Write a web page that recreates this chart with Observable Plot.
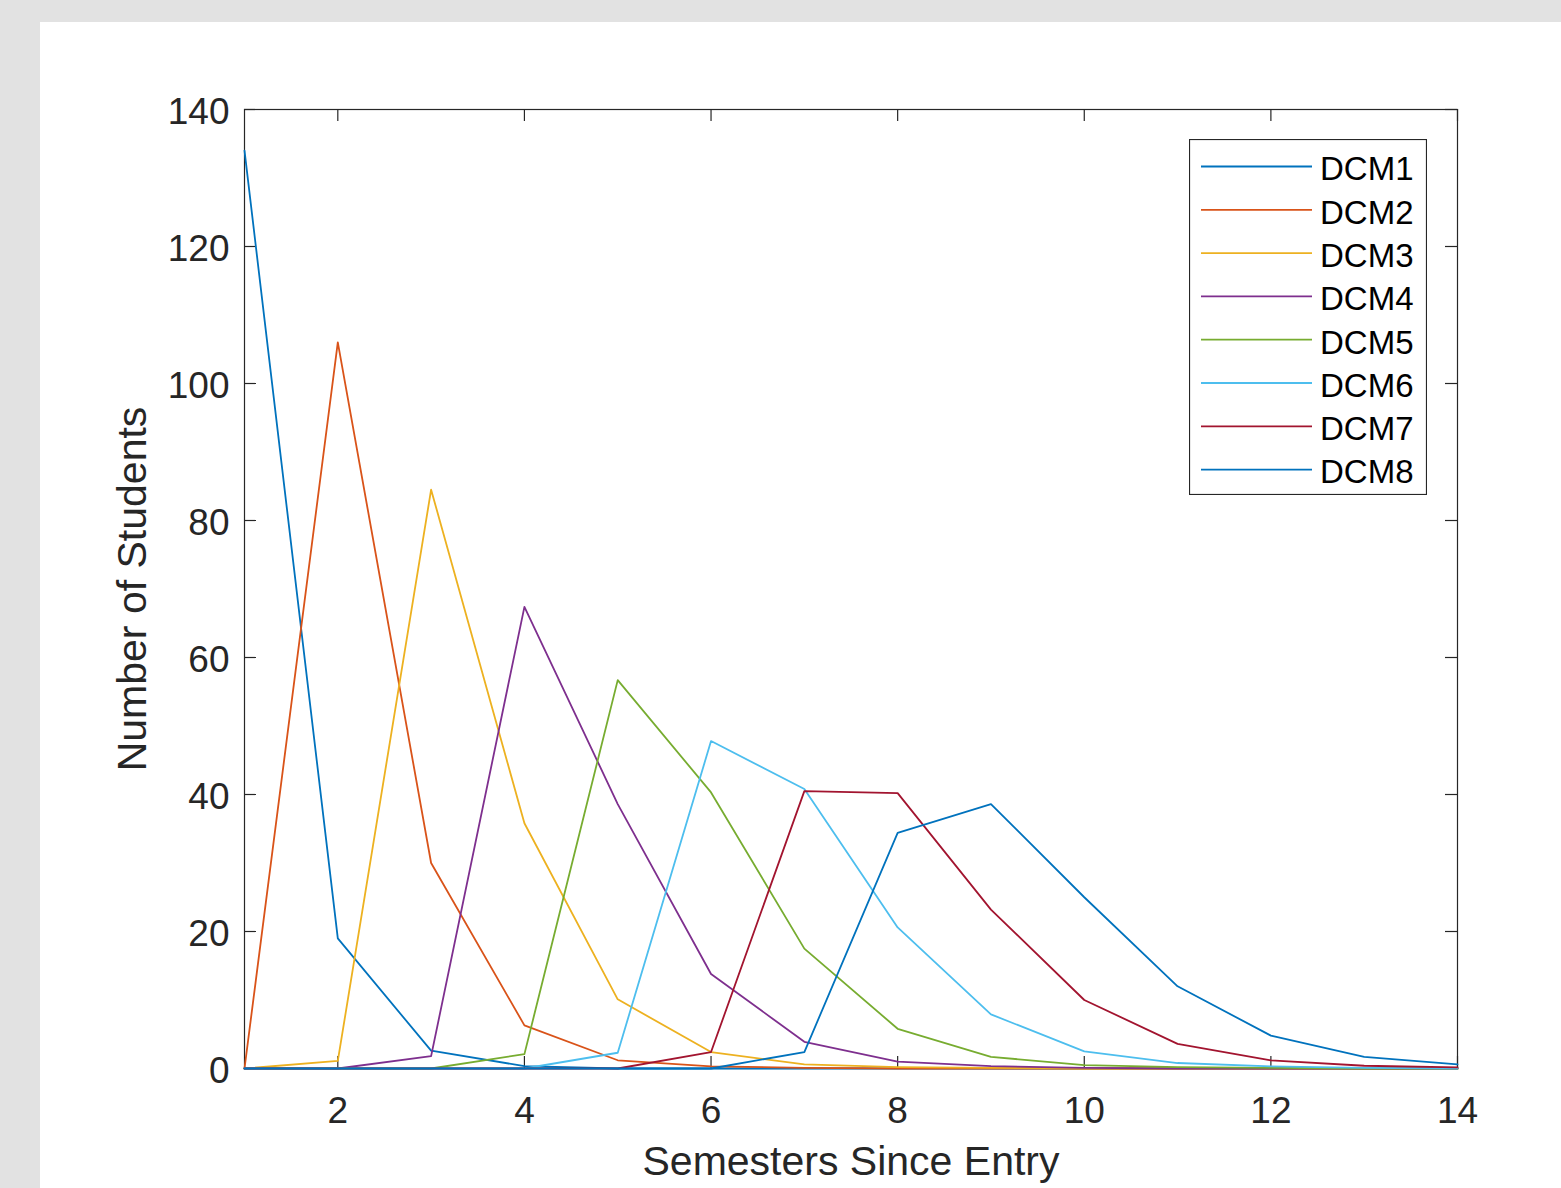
<!DOCTYPE html>
<html>
<head>
<meta charset="utf-8">
<script src="https://cdn.jsdelivr.net/npm/d3@7"></script>
<script src="https://cdn.jsdelivr.net/npm/@observablehq/plot@0.6"></script>
<style>
  html, body { margin: 0; padding: 0; background: #e2e2e2; width: 1561px; height: 1188px; overflow: hidden; }
  #fig { position: absolute; left: 40px; top: 22px; width: 1521px; height: 1166px; background: #fff; }
  #fig svg { display: block; }
  #legend { position: absolute; left: 1149px; top: 117px; }
</style>
</head>
<body>
<div id="fig"><div id="chart"></div><div id="legend"></div></div>
<script>
// ---- data ----
const semesters = [1, 2, 3, 4, 5, 6, 7, 8, 9, 10, 11, 12, 13, 14];
const seriesNames = ["DCM1", "DCM2", "DCM3", "DCM4", "DCM5", "DCM6", "DCM7", "DCM8"];
const DCM1 = [134, 19, 2.6, 0.35, 0, 0, 0, 0, 0, 0, 0, 0, 0, 0];
const DCM2 = [0, 106, 30, 6.3, 1.2, 0.3, 0.1, 0, 0, 0, 0, 0, 0, 0];
const DCM3 = [0, 1.1, 84.5, 35.8, 10.1, 2.4, 0.6, 0.2, 0.1, 0, 0, 0, 0, 0];
const DCM4 = [0, 0, 1.8, 67.4, 38.6, 13.8, 3.9, 1.0, 0.35, 0.1, 0, 0, 0, 0];
const DCM5 = [0, 0, 0, 2.1, 56.7, 40.3, 17.5, 5.8, 1.7, 0.5, 0.2, 0.1, 0, 0];
const DCM6 = [0, 0, 0, 0, 2.3, 47.8, 40.8, 20.6, 7.9, 2.5, 0.8, 0.3, 0.1, 0];
const DCM7 = [0, 0, 0, 0, 0, 2.4, 40.5, 40.2, 23.2, 10.0, 3.6, 1.2, 0.4, 0.15];
const DCM8 = [0, 0, 0, 0, 0, 0, 2.4, 34.4, 38.6, 25.0, 12.0, 4.8, 1.7, 0.6];
const seriesValues = [DCM1, DCM2, DCM3, DCM4, DCM5, DCM6, DCM7, DCM8];
const colors = ["#0072BD", "#D95319", "#EDB120", "#7E2F8E", "#77AC30", "#4DBEEE", "#A2142F", "#0072BD"];
const xTicks = [2, 4, 6, 8, 10, 12, 14];
const yTicks = [0, 20, 40, 60, 80, 100, 120, 140];
const xLabel = "Semesters Since Entry";
const yLabel = "Number of Students";

// ---- layout ----
const W = 1521, H = 1166;
const mL = 204, mR = 104, mT = 87, mB = 120;
const plotW = W - mL - mR, plotH = H - mT - mB;
const tickLen = 12;
const axisColor = "#262626";
const font = "'Liberation Sans', Arial, Helvetica, sans-serif";

const rows = seriesNames.flatMap((name, i) =>
  semesters.map((s, j) => ({series: name, idx: i, semester: s, value: seriesValues[i][j]}))
);

const chart = Plot.plot({
  width: W,
  height: H,
  marginLeft: mL,
  marginRight: mR,
  marginTop: mT,
  marginBottom: mB,
  style: {fontFamily: font, background: "white", overflow: "visible"},
  x: {domain: [1, 14]},
  y: {domain: [0, 140]},
  color: {domain: seriesNames, range: colors},
  marks: [
    Plot.frame({stroke: axisColor, strokeWidth: 1.2}),
    Plot.tickX(xTicks, {x: d => d, insetTop: plotH - tickLen, stroke: axisColor, strokeWidth: 1.2}),
    Plot.tickX(xTicks, {x: d => d, insetBottom: plotH - tickLen, stroke: axisColor, strokeWidth: 1.2}),
    Plot.tickY(yTicks, {y: d => d, insetRight: plotW - tickLen, stroke: axisColor, strokeWidth: 1.2}),
    Plot.tickY(yTicks, {y: d => d, insetLeft: plotW - tickLen, stroke: axisColor, strokeWidth: 1.2}),
    Plot.axisX(xTicks, {tickSize: 0, tickPadding: 28, fontSize: 37, fill: axisColor, label: null}),
    Plot.axisY(yTicks, {tickSize: 0, tickPadding: 15, fontSize: 37, fill: axisColor, label: null, dy: 3}),
    Plot.text([xLabel], {text: d => d, frameAnchor: "bottom", textAnchor: "middle", lineAnchor: "middle", dy: 93, fontSize: 41, fill: axisColor}),
    Plot.text([yLabel], {text: d => d, frameAnchor: "left", textAnchor: "middle", lineAnchor: "middle", dx: -112, rotate: -90, fontSize: 41, fill: axisColor}),
    Plot.line(rows, {x: "semester", y: "value", z: "series", stroke: "series", strokeWidth: 1.8})
  ]
});
document.getElementById("chart").appendChild(chart);

// ---- legend (MATLAB-style box) ----
const lgW = 238, lgH = 356;
const lg = d3.select("#legend").append("svg").attr("width", lgW).attr("height", lgH)
  .style("font-family", font);
lg.append("rect").attr("x", 0.5).attr("y", 0.5).attr("width", lgW - 1).attr("height", lgH - 1)
  .attr("fill", "white").attr("stroke", axisColor).attr("stroke-width", 1.2);
const rowStep = 43.3, row0 = 27.5;
seriesNames.forEach((name, i) => {
  const cy = row0 + i * rowStep;
  lg.append("line").attr("x1", 12).attr("x2", 123).attr("y1", cy).attr("y2", cy)
    .attr("stroke", colors[i]).attr("stroke-width", 1.8);
  lg.append("text").attr("x", 131).attr("y", cy).attr("dy", "0.42em")
    .attr("font-size", 33).attr("fill", "#000").text(name);
});
</script>
</body>
</html>
